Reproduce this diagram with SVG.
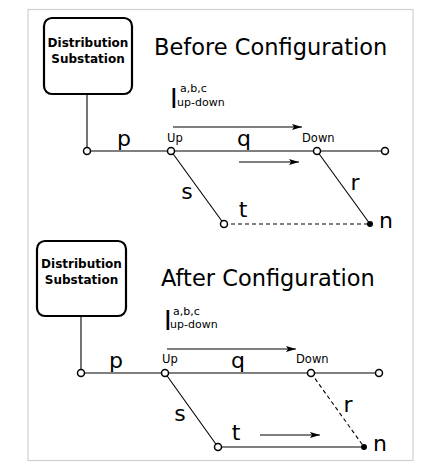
<svg xmlns="http://www.w3.org/2000/svg" width="422" height="471" viewBox="0 0 422 471">
<defs>
<marker id="ah" markerWidth="10" markerHeight="6" refX="10" refY="3" orient="auto" markerUnits="userSpaceOnUse">
<path d="M0,0 L10,3 L0,6 L2,3 Z" fill="#000"/>
</marker>
<style>
.frame{fill:#fff;stroke:#d0d0d0;stroke-width:1.2}
.box{fill:#fff;stroke:#000;stroke-width:2.2}
.bt{font-family:"DejaVu Sans",sans-serif;font-weight:bold;font-size:12px;text-anchor:middle}
.title{font-family:"DejaVu Sans",sans-serif;font-size:22.5px}
.lbl{font-family:"DejaVu Sans",sans-serif;font-size:22px;text-anchor:middle}
.sm{font-family:"DejaVu Sans",sans-serif;font-size:11px}
.nd{font-family:"DejaVu Sans",sans-serif;font-size:11.5px}
.big{font-family:"DejaVu Sans",sans-serif;font-size:26px}
.ln{stroke:#000;stroke-width:1.1;fill:none}
.dash{stroke:#000;stroke-width:1.1;fill:none;stroke-dasharray:4,3}
.arr{stroke:#000;stroke-width:1.1;fill:none;marker-end:url(#ah)}
.on{fill:#fff;stroke:#000;stroke-width:1.5}
.fn{fill:#000}
</style>
</defs>
<rect x="0" y="0" width="422" height="471" fill="#fff"/>
<rect class="frame" x="28" y="9.5" width="385" height="451"/>

<!-- Before -->
<g id="before-substation">
<rect class="box" x="44" y="18" width="88" height="76" rx="8"/>
<text class="bt" x="88" y="47">Distribution</text>
<text class="bt" x="88" y="63">Substation</text>
</g>
<text class="title" x="154" y="55">Before Configuration</text>
<g id="before-current">
<text class="big" x="170" y="108">I</text>
<text class="sm" x="180" y="92">a,b,c</text>
<text class="sm" x="177" y="106">up-down</text>
</g>
<g id="before-connectors">
<line class="ln" x1="87" y1="94" x2="87" y2="151"/>
<line class="ln" x1="87" y1="151" x2="385" y2="151"/>
<line class="ln" x1="171" y1="151" x2="224" y2="224"/>
<line class="ln" x1="317" y1="151" x2="370" y2="224"/>
<line class="dash" x1="224" y1="224" x2="370" y2="224"/>
<line class="arr" x1="173" y1="127" x2="302" y2="127"/>
<line class="arr" x1="239" y1="162" x2="299" y2="162"/>
</g>
<g id="before-nodes">
<circle class="on" cx="87" cy="151" r="3.5"/>
<circle class="on" cx="171" cy="151" r="3.5"/>
<circle class="on" cx="317" cy="151" r="3.5"/>
<circle class="on" cx="385" cy="151" r="3.5"/>
<circle class="on" cx="224" cy="224" r="3.5"/>
<circle class="fn" cx="370" cy="224" r="3"/>
</g>
<g id="before-labels">
<text class="lbl" x="124" y="146">p</text>
<text class="nd" x="167" y="142">Up</text>
<text class="lbl" x="244" y="146">q</text>
<text class="nd" x="302" y="142">Down</text>
<text class="lbl" x="187" y="199">s</text>
<text class="lbl" x="355" y="190">r</text>
<text class="lbl" x="243" y="217">t</text>
<text class="lbl" x="386" y="228">n</text>
</g>

<!-- After -->
<g id="after-substation">
<rect class="box" x="37" y="241" width="89" height="75" rx="8"/>
<text class="bt" x="81.5" y="268">Distribution</text>
<text class="bt" x="81.5" y="284">Substation</text>
</g>
<text class="title" x="161" y="286">After Configuration</text>
<g id="after-current">
<text class="big" x="164" y="330">I</text>
<text class="sm" x="173" y="315">a,b,c</text>
<text class="sm" x="170" y="328">up-down</text>
</g>
<g id="after-connectors">
<line class="ln" x1="81" y1="316" x2="81" y2="373"/>
<line class="ln" x1="81" y1="373" x2="379" y2="373"/>
<line class="ln" x1="165" y1="373" x2="218" y2="447"/>
<line class="dash" x1="311" y1="373" x2="364" y2="447"/>
<line class="ln" x1="218" y1="447" x2="364" y2="447"/>
<line class="arr" x1="167" y1="349" x2="296" y2="349"/>
<line class="arr" x1="260" y1="435" x2="320" y2="435"/>
</g>
<g id="after-nodes">
<circle class="on" cx="81" cy="373" r="3.5"/>
<circle class="on" cx="165" cy="373" r="3.5"/>
<circle class="on" cx="311" cy="373" r="3.5"/>
<circle class="on" cx="379" cy="373" r="3.5"/>
<circle class="on" cx="218" cy="447" r="3.5"/>
<circle class="fn" cx="364" cy="447" r="3"/>
</g>
<g id="after-labels">
<text class="lbl" x="116" y="368">p</text>
<text class="nd" x="162" y="363">Up</text>
<text class="lbl" x="238" y="368">q</text>
<text class="nd" x="296" y="363">Down</text>
<text class="lbl" x="180" y="421">s</text>
<text class="lbl" x="348" y="412">r</text>
<text class="lbl" x="236" y="440">t</text>
<text class="lbl" x="380" y="451">n</text>
</g>
</svg>
